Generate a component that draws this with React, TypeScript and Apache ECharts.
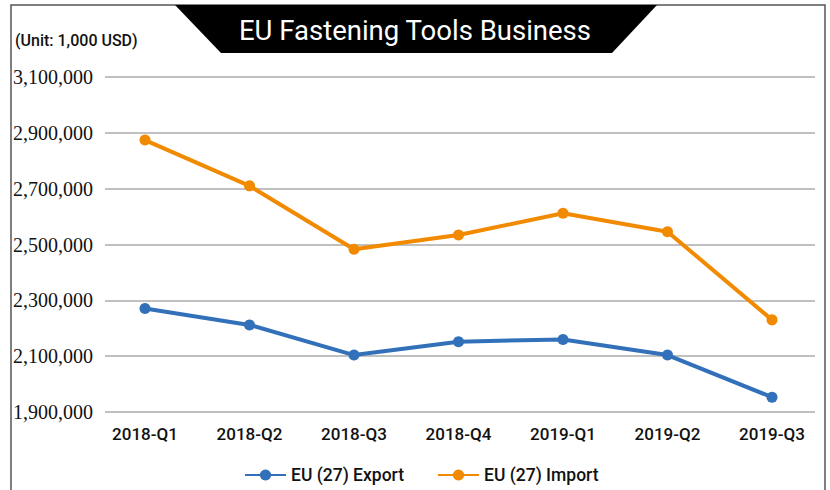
import React, { useEffect, useRef } from "react";
import * as echarts from "echarts";

const categories = ["2018-Q1", "2018-Q2", "2018-Q3", "2018-Q4", "2019-Q1", "2019-Q2", "2019-Q3"];
const exportValues = [2271000, 2212000, 2104000, 2152000, 2160000, 2104000, 1953000];
const importValues = [2874000, 2710000, 2483000, 2534000, 2612000, 2546000, 2230000];
const seriesNames = ["EU (27) Export", "EU (27) Import"];
const titleText = "EU Fastening Tools Business";
const unitText = "(Unit: 1,000 USD)";
const yMin = 1900000;
const yMax = 3100000;
const yStep = 200000;

export default function App() {
  const ref = useRef<HTMLDivElement>(null);
  useEffect(() => {
    if (!ref.current) return;
    const chart = echarts.init(ref.current, null, { renderer: "svg" });
    const blue = "#3271BA";
    const orange = "#F28A00";
    const sans = "Roboto";
    chart.setOption({
      animation: false,
      backgroundColor: "#fff",
      grid: [
        { left: 105, right: 15, top: 77, bottom: 78 },
        { left: 145, right: 58, top: 77, bottom: 78 },
      ],
      xAxis: [
        { type: "category", gridIndex: 0, data: categories, show: false },
        {
          type: "category",
          gridIndex: 1,
          data: categories,
          boundaryGap: false,
          axisLine: { show: false },
          axisTick: { show: false },
          axisLabel: { color: "#111", fontFamily: sans, fontSize: 17, fontWeight: 500, margin: 13 },
        },
      ],
      yAxis: [
        {
          type: "value",
          gridIndex: 0,
          min: yMin,
          max: yMax,
          interval: yStep,
          axisLine: { show: false },
          axisTick: { show: false },
          axisLabel: {
            color: "#111",
            fontFamily: "Liberation Serif",
            fontSize: 20,
            margin: 12,
            formatter: (v: number) => v.toLocaleString("en-US"),
          },
          splitLine: { lineStyle: { color: "#ababab", width: 1.5 } },
        },
        { type: "value", gridIndex: 1, min: yMin, max: yMax, show: false, splitLine: { show: false } },
      ],
      legend: {
        left: 239,
        top: 461,
        itemWidth: 41,
        itemHeight: 14,
        itemGap: 33,
        textStyle: { color: "#111", fontFamily: sans, fontSize: 17.5, fontWeight: 500 },
        data: seriesNames,
      },
      series: [
        {
          name: seriesNames[0],
          type: "line",
          xAxisIndex: 1,
          yAxisIndex: 1,
          data: exportValues,
          symbol: "circle",
          symbolSize: 11,
          itemStyle: { color: blue },
          lineStyle: { color: blue, width: 4 },
        },
        {
          name: seriesNames[1],
          type: "line",
          xAxisIndex: 1,
          yAxisIndex: 1,
          data: importValues,
          symbol: "circle",
          symbolSize: 11,
          itemStyle: { color: orange },
          lineStyle: { color: orange, width: 4 },
        },
      ],
      graphic: [
        {
          type: "polyline",
          shape: { points: [[11, 490], [11, 5], [825, 5], [825, 490]] },
          style: { stroke: "#555", lineWidth: 1.5, fill: null },
          silent: true,
        },
        {
          type: "polygon",
          shape: { points: [[175, 5], [657, 5], [612, 53], [221, 53]] },
          style: { fill: "#000" },
          silent: true,
        },
        {
          type: "text",
          x: 415,
          y: 30,
          style: {
            text: titleText,
            fill: "#fff",
            fontFamily: sans,
            fontSize: 27.5,
            align: "center",
            verticalAlign: "middle",
          },
          silent: true,
        },
        {
          type: "text",
          x: 15,
          y: 40,
          style: {
            text: unitText,
            fill: "#111",
            fontFamily: sans,
            fontSize: 16,
            fontWeight: 500,
            align: "left",
            verticalAlign: "middle",
          },
          silent: true,
        },
      ],
    });
    return () => chart.dispose();
  }, []);
  return (
    <div
      ref={ref}
      style={{ position: "fixed", left: 0, top: 0, width: 830, height: 490 }}
    />
  );
}
